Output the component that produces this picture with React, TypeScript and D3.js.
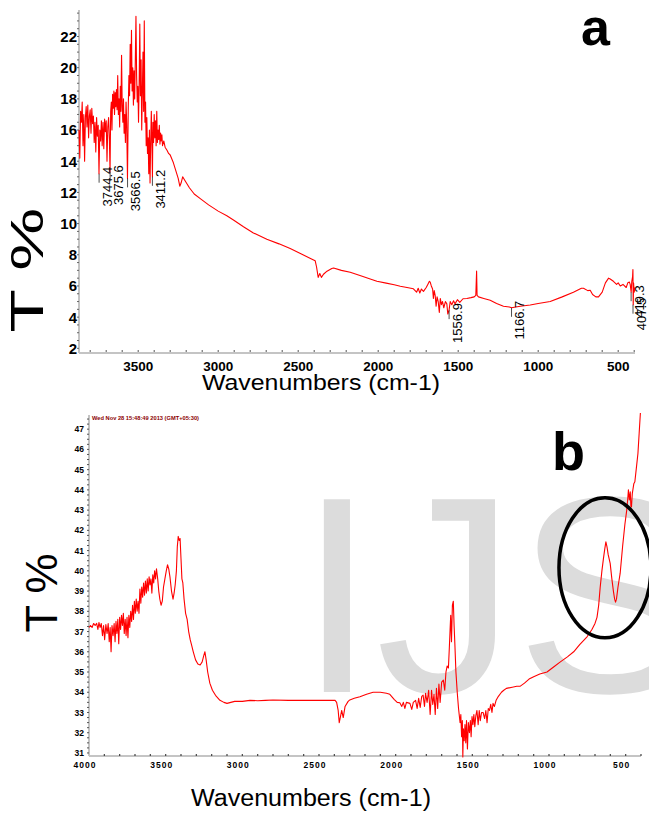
import React, { useEffect, useRef } from "react";
import * as d3 from "d3";

// FTIR spectrum (a): [wavenumber, T%]
const spectrumA: [number, number][] = [
  [3870, 16.0], [3865, 14.2], [3860, 17.2], [3855, 16.5], [3850, 17.8], [3845, 15.0], [3840, 17.0],
  [3835, 14.0], [3830, 16.8], [3825, 17.5], [3820, 16.2], [3815, 17.6], [3810, 15.5], [3805, 16.9],
  [3800, 17.3], [3795, 15.8], [3790, 17.4], [3785, 16.4], [3780, 16.9], [3775, 15.2], [3770, 16.5],
  [3765, 14.6], [3760, 16.8], [3755, 15.6], [3750, 16.3], [3745, 13.2], [3740, 16.0], [3735, 15.3],
  [3730, 16.6], [3725, 15.0], [3720, 16.5], [3715, 14.8], [3710, 16.7], [3705, 15.9], [3700, 16.6],
  [3695, 14.0], [3690, 16.2], [3685, 16.8], [3680, 15.4], [3676, 13.3], [3672, 17.2], [3668, 17.8],
  [3664, 16.0], [3660, 18.3], [3656, 17.4], [3652, 18.5], [3648, 17.0], [3644, 18.4], [3640, 17.5],
  [3636, 18.6], [3632, 17.3], [3628, 19.5], [3624, 17.0], [3620, 18.0], [3616, 16.2], [3612, 18.8],
  [3608, 17.2], [3604, 20.8], [3600, 17.6], [3596, 16.5], [3592, 18.0], [3588, 15.8], [3584, 17.0],
  [3580, 15.2], [3576, 17.8], [3572, 16.5], [3567, 12.9], [3562, 17.5], [3558, 19.5], [3554, 18.2],
  [3550, 21.5], [3546, 19.0], [3542, 22.4], [3538, 18.5], [3534, 20.0], [3530, 17.6], [3526, 19.8],
  [3522, 18.0], [3518, 20.5], [3514, 23.3], [3510, 19.5], [3506, 17.8], [3502, 18.8], [3498, 16.5],
  [3494, 19.0], [3490, 22.8], [3486, 18.2], [3482, 20.5], [3478, 16.0], [3474, 18.5], [3470, 21.0],
  [3466, 17.2], [3462, 23.0], [3458, 16.5], [3454, 17.8], [3450, 15.0], [3446, 16.8], [3442, 14.5],
  [3438, 15.5], [3434, 13.2], [3430, 16.0], [3426, 12.6], [3422, 15.2], [3418, 17.2], [3414, 15.0],
  [3411, 13.0], [3408, 16.5], [3404, 15.2], [3400, 17.0], [3396, 15.5], [3392, 16.6], [3388, 15.0],
  [3384, 17.2], [3380, 15.2], [3376, 16.0], [3372, 15.4], [3368, 16.3], [3364, 15.1], [3360, 15.8],
  [3356, 15.3], [3352, 15.7], [3348, 15.0], [3340, 15.3], [3332, 14.9], [3320, 14.7], [3310, 14.5],
  [3300, 14.4], [3280, 13.9], [3265, 13.4], [3250, 12.9], [3240, 12.4], [3232, 12.6], [3222, 13.0],
  [3210, 12.8], [3180, 12.3], [3150, 11.9], [3112, 11.6], [3060, 11.2], [3000, 10.8], [2946, 10.5],
  [2900, 10.2], [2842, 9.8], [2780, 9.4], [2696, 9.0], [2620, 8.7], [2550, 8.4], [2480, 8.05],
  [2420, 7.75], [2394, 7.62], [2385, 7.2], [2375, 6.55], [2365, 6.8], [2355, 6.55], [2342, 6.75],
  [2320, 6.95], [2290, 7.12], [2279, 7.15], [2230, 7.0], [2175, 6.88], [2100, 6.62], [2050, 6.45],
  [2008, 6.3], [1950, 6.18], [1900, 6.08], [1862, 5.98], [1820, 5.9], [1780, 5.82], [1760, 5.6],
  [1750, 5.85], [1740, 5.55], [1730, 5.8], [1717, 5.65], [1700, 5.9], [1690, 6.1], [1680, 6.3],
  [1675, 6.25], [1668, 6.0], [1660, 5.8], [1655, 5.2], [1650, 5.7], [1644, 5.4], [1638, 4.7],
  [1632, 5.3], [1625, 5.0], [1618, 4.3], [1612, 5.2], [1605, 4.8], [1598, 5.0], [1590, 4.6],
  [1580, 5.0], [1571, 4.85], [1565, 4.2], [1557, 4.45], [1550, 5.0], [1540, 4.8], [1529, 5.05],
  [1520, 4.85], [1505, 5.12], [1490, 4.95], [1470, 5.18], [1446, 5.2], [1420, 5.25], [1400, 5.3],
  [1390, 5.4], [1385, 6.95], [1382, 5.4], [1373, 5.3], [1340, 5.2], [1300, 5.08], [1260, 4.88],
  [1217, 4.7], [1180, 4.65], [1167, 4.6], [1140, 4.65], [1112, 4.7], [1050, 4.78], [1000, 4.88],
  [925, 5.0], [850, 5.3], [780, 5.6], [730, 5.85], [717, 5.85], [690, 5.7], [675, 5.72], [660, 5.45],
  [640, 5.3], [623, 5.3], [600, 5.6], [580, 6.2], [560, 6.5], [550, 6.45], [530, 6.3], [510, 6.1],
  [500, 6.2], [487, 6.0], [470, 6.1], [450, 5.9], [440, 6.2], [430, 6.25], [425, 6.1], [419, 5.6],
  [415, 6.3], [410, 6.6], [408, 7.05], [406, 4.8], [404, 6.2], [400, 5.6], [395, 5.9],
];

// FTIR spectrum (b): [wavenumber, T%]
const spectrumB: [number, number][] = [
  [4000, 37.2], [3990, 37.3], [3980, 37.2], [3970, 37.4], [3960, 37.3], [3950, 37.4], [3942, 37.1],
  [3935, 37.45], [3928, 37.2], [3920, 37.4], [3912, 36.8], [3905, 37.3], [3898, 36.6], [3890, 37.35],
  [3882, 36.9], [3875, 37.4], [3868, 36.5], [3862, 37.2], [3856, 36.0], [3850, 37.3], [3843, 36.8],
  [3836, 37.4], [3830, 36.5], [3824, 37.5], [3818, 36.9], [3812, 37.6], [3806, 36.4], [3800, 37.7],
  [3794, 37.1], [3788, 37.8], [3782, 37.3], [3776, 37.9], [3770, 36.9], [3764, 37.6], [3758, 36.8],
  [3752, 37.7], [3746, 36.7], [3740, 37.8], [3734, 37.2], [3728, 38.0], [3722, 37.5], [3716, 38.3],
  [3710, 37.6], [3704, 38.5], [3698, 37.9], [3692, 38.6], [3686, 38.0], [3680, 38.5], [3674, 37.9],
  [3668, 39.1], [3662, 38.4], [3656, 39.2], [3650, 38.7], [3644, 39.4], [3638, 38.8], [3632, 39.5],
  [3626, 38.9], [3620, 39.6], [3614, 39.0], [3608, 39.7], [3602, 39.3], [3596, 39.6], [3590, 38.9],
  [3584, 39.8], [3578, 39.4], [3572, 40.0], [3566, 39.6], [3560, 40.1], [3552, 39.6], [3545, 39.0],
  [3538, 38.6], [3530, 38.3], [3522, 38.5], [3514, 39.2], [3505, 39.6], [3496, 40.0], [3488, 40.3],
  [3480, 40.1], [3472, 39.7], [3462, 39.0], [3452, 38.6], [3445, 38.9], [3438, 39.3], [3430, 40.0],
  [3424, 41.2], [3418, 41.7], [3412, 41.5], [3406, 41.6], [3400, 40.6], [3394, 39.6], [3388, 39.4],
  [3380, 38.6], [3370, 37.9], [3360, 37.6], [3350, 37.0], [3340, 36.6], [3330, 36.3], [3320, 36.0],
  [3305, 35.6], [3290, 35.4], [3275, 35.35], [3262, 35.5], [3252, 35.8], [3244, 36.0], [3236, 35.6],
  [3226, 35.0], [3212, 34.45], [3195, 34.1], [3175, 33.85], [3146, 33.6], [3120, 33.5], [3100, 33.45],
  [3050, 33.55], [3000, 33.55], [2950, 33.6], [2900, 33.58], [2850, 33.6], [2800, 33.62], [2700, 33.6],
  [2600, 33.6], [2500, 33.6], [2420, 33.6], [2395, 33.6], [2385, 33.5], [2375, 33.1], [2368, 32.5],
  [2360, 32.8], [2352, 33.1], [2342, 32.75], [2330, 33.3], [2310, 33.55], [2299, 33.62], [2270, 33.7],
  [2233, 33.78], [2190, 33.9], [2147, 34.0], [2100, 34.0], [2060, 33.95], [2038, 33.9], [2010, 33.65],
  [1990, 33.5], [1973, 33.48], [1960, 33.3], [1950, 33.5], [1940, 33.2], [1930, 33.5], [1907, 33.45],
  [1895, 33.15], [1885, 33.5], [1870, 33.6], [1860, 33.2], [1850, 33.7], [1840, 33.25], [1830, 33.8],
  [1821, 33.86], [1812, 33.3], [1805, 33.95], [1795, 33.5], [1785, 34.1], [1775, 32.9], [1766, 34.1],
  [1758, 33.4], [1750, 33.9], [1742, 32.9], [1734, 34.2], [1726, 33.2], [1718, 34.4], [1710, 33.5],
  [1700, 34.5], [1689, 34.6], [1680, 34.1], [1672, 35.0], [1664, 35.3], [1656, 35.2], [1650, 36.2],
  [1645, 37.1], [1641, 37.8], [1636, 36.5], [1630, 38.3], [1624, 38.5], [1619, 37.3], [1614, 36.4],
  [1607, 35.0], [1598, 33.95], [1590, 33.2], [1580, 32.5], [1575, 32.9], [1570, 31.8], [1565, 32.6],
  [1562, 30.8], [1558, 32.2], [1553, 31.6], [1548, 32.4], [1543, 31.5], [1538, 32.6], [1532, 31.2],
  [1526, 32.5], [1519, 32.0], [1513, 32.6], [1508, 31.8], [1502, 32.8], [1496, 32.4], [1490, 32.9],
  [1484, 32.3], [1477, 32.85], [1470, 33.1], [1462, 32.4], [1455, 33.1], [1448, 32.6], [1440, 33.0],
  [1430, 33.0], [1420, 32.7], [1412, 33.1], [1404, 32.5], [1396, 33.2], [1388, 33.1], [1380, 33.4],
  [1372, 33.0], [1365, 33.45], [1356, 33.3], [1345, 33.6], [1330, 33.8], [1310, 34.0], [1295, 34.1],
  [1278, 34.19], [1240, 34.25], [1210, 34.3], [1187, 34.3], [1160, 34.45], [1130, 34.65], [1100, 34.77],
  [1060, 34.9], [1013, 35.0], [970, 35.25], [926, 35.5], [880, 35.75], [839, 36.0], [800, 36.35],
  [752, 36.74], [720, 37.1], [700, 37.4], [687, 37.7], [676, 38.3], [666, 39.2], [655, 40.0],
  [645, 40.6], [636, 41.1], [629, 41.43], [622, 41.2], [614, 40.8], [601, 40.37], [590, 39.6],
  [580, 39.0], [572, 38.6], [566, 38.45], [560, 38.6], [550, 39.2], [536, 39.87], [520, 41.2],
  [505, 42.3], [493, 43.0], [486, 43.6], [482, 44.0], [476, 43.5], [470, 43.9], [466, 43.2],
  [462, 43.16], [457, 43.8], [447, 44.3], [440, 44.4], [430, 45.1], [420, 45.8], [412, 46.8],
  [404, 47.8], [400, 48.5],
];

// peak annotations of spectrum (a): [wavenumber, T% at the dip]
const peaksA: [number, number][] = [
  [3744.4, 13.2], [3675.6, 13.3], [3566.5, 12.9], [3411.2, 13.0],
  [1556.9, 4.45], [1166.7, 4.6], [419.3, 5.6], [407.5, 4.8],
];

const yTicksA = [2, 4, 6, 8, 10, 12, 14, 16, 18, 20, 22];
const xTicksA = [3500, 3000, 2500, 2000, 1500, 1000, 500];
const yTicksB = [31, 32, 33, 34, 35, 36, 37, 38, 39, 40, 41, 42, 43, 44, 45, 46, 47];
const xTicksB = [4000, 3500, 3000, 2500, 2000, 1500, 1000, 500];

const FONT = "'Liberation Sans', Arial, Helvetica, sans-serif";

const App = () => {
  const ref = useRef<SVGSVGElement>(null);

  useEffect(() => {
    const svg = d3.select(ref.current);
    svg.selectAll("*").remove();
    svg.append("rect").attr("width", 649).attr("height", 815).attr("fill", "#fff");

    // ---------- panel a ----------
    const xa = d3.scaleLinear().domain([3870, 395]).range([79, 635]);
    const ya = d3.scaleLinear().domain([1.7, 23.7]).range([353, 10]);
    const ga = svg.append("g");

    // axes
    ga.append("line").attr("x1", 79).attr("x2", 79).attr("y1", 10).attr("y2", 353)
      .attr("stroke", "#c4c4c4").attr("stroke-width", 2);
    ga.append("line").attr("x1", 79).attr("x2", 635).attr("y1", 353).attr("y2", 353)
      .attr("stroke", "#c4c4c4").attr("stroke-width", 2);
    ga.selectAll(".ymin").data(d3.range(2, 23.6, 0.5)).join("line")
      .attr("x1", 77).attr("x2", 79).attr("y1", (d) => ya(d)).attr("y2", (d) => ya(d))
      .attr("stroke", "#666").attr("stroke-width", 1);
    ga.selectAll(".xmin").data(d3.range(3800, 399, -100)).join("line")
      .attr("x1", (d) => xa(d)).attr("x2", (d) => xa(d)).attr("y1", 350).attr("y2", 352)
      .attr("stroke", "#555").attr("stroke-width", 1);
    ga.selectAll(".ylab").data(yTicksA).join("text")
      .attr("x", 77).attr("y", (d) => ya(d)).attr("dy", "0.36em")
      .attr("text-anchor", "end").attr("font-family", FONT).attr("font-weight", "bold")
      .attr("font-size", 15).text((d) => d);
    ga.selectAll(".xlab").data(xTicksA).join("text")
      .attr("x", (d) => xa(d)).attr("y", 371)
      .attr("text-anchor", "middle").attr("font-family", FONT).attr("font-weight", "bold")
      .attr("font-size", 13.5).text((d) => d);
    ga.append("text").attr("x", 202).attr("y", 390).attr("font-family", FONT)
      .attr("font-size", 22).attr("textLength", 238).attr("lengthAdjust", "spacingAndGlyphs")
      .text("Wavenumbers (cm-1)");
    ga.append("text").attr("transform", "translate(43,270) rotate(-90)")
      .attr("text-anchor", "middle").attr("font-family", FONT).attr("font-size", 46)
      .attr("textLength", 125).attr("lengthAdjust", "spacingAndGlyphs").text("T %");
    ga.append("text").attr("x", 581).attr("y", 45).attr("font-family", FONT)
      .attr("font-weight", "bold").attr("font-size", 52).text("a");

    const lineA = d3.line<[number, number]>().x((d) => xa(d[0])).y((d) => ya(d[1]));
    ga.append("path").datum(spectrumA).attr("d", lineA).attr("fill", "none")
      .attr("stroke", "#ff0000").attr("stroke-width", 1.1).attr("stroke-linejoin", "round");

    // peak labels
    const pk = ga.selectAll(".pk").data(peaksA).join("g");
    pk.append("line").attr("x1", (d) => xa(d[0])).attr("x2", (d) => xa(d[0]))
      .attr("y1", (d) => ya(d[1])).attr("y2", (d) => ya(d[1]) + 9)
      .attr("stroke", "#222").attr("stroke-width", 0.8);
    pk.append("text")
      .attr("transform", (d) => `translate(${xa(d[0]) + 8},${ya(d[1]) - 7}) rotate(-90)`)
      .attr("dy", "0.36em").attr("text-anchor", "end").attr("font-family", FONT)
      .attr("font-size", 13).text((d) => d[0].toFixed(1));

    // ---------- panel b ----------
    const xb = d3.scaleLinear().domain([4000, 400]).range([89, 641]);
    const yb = d3.scaleLinear().domain([30.85, 47.7]).range([756, 415]);
    const gb = svg.append("g");

    // watermark
    gb.append("text").attr("x", 298).attr("y", 692).attr("font-family", FONT)
      .attr("font-size", 280).attr("fill", "#dcdcdc").text("IJS");

    gb.append("line").attr("x1", 89).attr("x2", 89).attr("y1", 415).attr("y2", 756)
      .attr("stroke", "#c4c4c4").attr("stroke-width", 2);
    gb.append("line").attr("x1", 89).attr("x2", 641).attr("y1", 756).attr("y2", 756)
      .attr("stroke", "#c4c4c4").attr("stroke-width", 2);
    gb.selectAll(".ymin").data(d3.range(31, 47.6, 0.25)).join("line")
      .attr("x1", 87).attr("x2", 89).attr("y1", (d) => yb(d)).attr("y2", (d) => yb(d))
      .attr("stroke", "#555").attr("stroke-width", 1);
    gb.selectAll(".xmin").data(d3.range(3900, 399, -100)).join("line")
      .attr("x1", (d) => xb(d)).attr("x2", (d) => xb(d)).attr("y1", 754).attr("y2", 756)
      .attr("stroke", "#444").attr("stroke-width", 1.2);
    gb.selectAll(".ylab").data(yTicksB).join("text")
      .attr("x", 84).attr("y", (d) => yb(d)).attr("dy", "0.36em")
      .attr("text-anchor", "end").attr("font-family", FONT).attr("font-weight", "bold")
      .attr("font-size", 8.5).text((d) => d);
    gb.selectAll(".xlab").data(xTicksB).join("text")
      .attr("x", (d) => xb(d) - 4).attr("y", 768)
      .attr("text-anchor", "middle").attr("font-family", FONT).attr("font-weight", "bold")
      .attr("font-size", 8.5).attr("letter-spacing", 1).text((d) => d);
    gb.append("text").attr("x", 92).attr("y", 420).attr("font-family", FONT)
      .attr("font-weight", "bold").attr("font-size", 6).attr("fill", "#8b0000")
      .attr("textLength", 107).attr("lengthAdjust", "spacingAndGlyphs")
      .text("Wed Nov 28 15:48:49 2013 (GMT+05:30)");
    gb.append("text").attr("x", 191).attr("y", 806).attr("font-family", FONT)
      .attr("font-size", 23).attr("textLength", 240).attr("lengthAdjust", "spacingAndGlyphs")
      .text("Wavenumbers (cm-1)");
    gb.append("text").attr("transform", "translate(57,593) rotate(-90)")
      .attr("text-anchor", "middle").attr("font-family", FONT).attr("font-size", 45)
      .text("T %");
    gb.append("text").attr("x", 552).attr("y", 470).attr("font-family", FONT)
      .attr("font-weight", "bold").attr("font-size", 54).text("b");

    const lineB = d3.line<[number, number]>().x((d) => xb(d[0])).y((d) => yb(d[1]));
    gb.append("path").datum(spectrumB.filter((d) => d[1] <= 47.9)).attr("d", lineB)
      .attr("fill", "none").attr("stroke", "#ff0000").attr("stroke-width", 1.1)
      .attr("stroke-linejoin", "round");

    // highlighted region round the 630–560 cm-1 band
    gb.append("ellipse").attr("cx", xb(635)).attr("cy", yb(40.15)).attr("rx", 46).attr("ry", 70)
      .attr("fill", "none").attr("stroke", "#000").attr("stroke-width", 3.5);
  }, []);

  return (
    <svg ref={ref} width={649} height={815}
      style={{ position: "absolute", left: 0, top: 0, display: "block" }} />
  );
};

export default App;
